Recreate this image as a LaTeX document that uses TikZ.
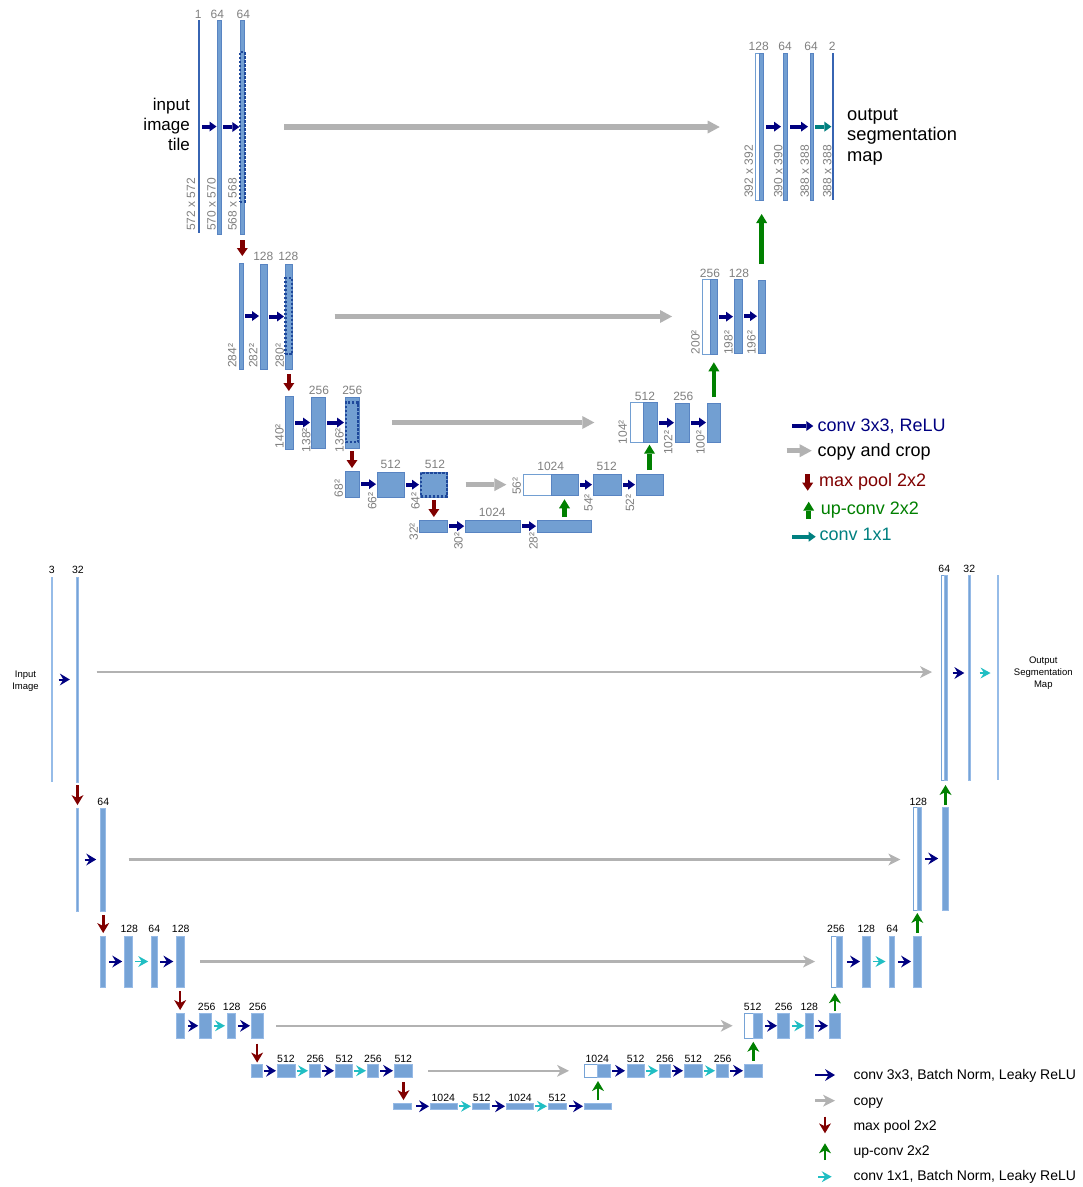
\documentclass[tikz,border=0pt]{standalone}
\usepackage{fontspec}
\setmainfont{Liberation Sans}
\usetikzlibrary{arrows.meta,calc}
\definecolor{blkfill}{RGB}{114,159,210}
\definecolor{blkdraw}{RGB}{88,132,194}
\definecolor{bblkfill}{RGB}{118,163,214}
\definecolor{bblkdraw}{RGB}{150,186,230}
\definecolor{linedark}{RGB}{55,100,178}
\definecolor{linelight}{RGB}{150,188,232}
\definecolor{convc}{RGB}{0,0,128}
\definecolor{poolc}{RGB}{128,0,0}
\definecolor{upc}{RGB}{0,128,0}
\definecolor{tealc}{RGB}{0,128,128}
\definecolor{cyanc}{RGB}{32,190,195}
\definecolor{copyc}{RGB}{178,178,178}
\definecolor{labc}{RGB}{128,128,128}
\definecolor{dashc}{RGB}{30,72,155}
\newcommand\blkbox[6][blk]{%
  \pgfmathsetmacro\bbw{#5-#3}\pgfmathsetmacro\bbh{#6-#4}%
  \node[#1,minimum width=\bbw pt,minimum height=\bbh pt] (#2) at ({(#3+#5)/2},{(#4+#6)/2}) {};}
\newcommand\hconn[5]{\draw[#1,shorten <=#4pt,shorten >=#5pt] (#2.east) -- (#2.east -| #3.west);}
\newcommand\dconn[5]{\draw[#1,shorten <=#4pt,shorten >=#5pt] (#2.south) -- (#2.south |- #3.north);}
\newcommand\uconn[5]{\draw[#1,shorten <=#4pt,shorten >=#5pt] (#2.north) -- (#2.north |- #3.south);}
\begin{document}
\begin{tikzpicture}[x=1pt,y=-1pt,
 blk/.style={rectangle,draw=blkdraw,fill=blkfill,line width=0.7pt,inner sep=0pt,outer sep=0pt},
 wblk/.style={rectangle,draw=blkfill,fill=white,line width=0.9pt,inner sep=0pt,outer sep=0pt},
 tline/.style={rectangle,draw=none,fill=linedark,inner sep=0pt,outer sep=0pt},
 crop/.style={rectangle,draw=dashc,dash pattern=on 2.4pt off 1.6pt,line width=2.2pt,inner sep=0pt,outer sep=0pt},
 bblk/.style={rectangle,draw=bblkdraw,fill=bblkfill,line width=0.6pt,inner sep=0pt,outer sep=0pt},
 bwblk/.style={rectangle,draw=bblkfill,fill=white,line width=0.9pt,inner sep=0pt,outer sep=0pt},
 bline/.style={rectangle,draw=none,fill=linelight,inner sep=0pt,outer sep=0pt},
 tconv/.style={draw=convc,line width=4pt,-{Triangle[length=7pt,width=10pt,line width=0pt]}},
 tone/.style={draw=tealc,line width=4pt,-{Triangle[length=7pt,width=10pt,line width=0pt]}},
 tcopy/.style={draw=copyc,line width=5.5pt,-{Triangle[length=12pt,width=13pt,line width=0pt]}},
 tpool/.style={draw=poolc,line width=4.5pt,-{Triangle[length=8pt,width=11pt,line width=0pt]}},
 tup/.style={draw=upc,line width=4.5pt,-{Triangle[length=9pt,width=11pt,line width=0pt]}},
 bconv/.style={draw=convc,line width=2pt,-{Stealth[length=10pt,width=12pt,inset=3.5pt,line width=0pt]}},
 bone/.style={draw=cyanc,line width=1.8pt,-{Stealth[length=10pt,width=11pt,inset=3.5pt,line width=0pt]}},
 bcopy/.style={draw=copyc,line width=2.5pt,-{Stealth[length=12pt,width=12pt,inset=3.5pt,line width=0pt]}},
 bpool/.style={draw=poolc,line width=2.6pt,-{Stealth[length=10pt,width=12pt,inset=3pt,line width=0pt]}},
 bup/.style={draw=upc,line width=2.6pt,-{Stealth[length=10pt,width=12pt,inset=3pt,line width=0pt]}},
 tnum/.style={text=labc,font=\fontsize{12}{14}\selectfont,inner sep=0pt,anchor=base},
 tsz/.style={text=labc,font=\fontsize{12}{14}\selectfont,inner sep=0pt,rotate=90,anchor=south west},
 bnum/.style={text=black,font=\fontsize{10.5}{12}\selectfont,inner sep=0pt,anchor=base},
 tleg/.style={anchor=base west,inner sep=0pt,font=\fontsize{18}{20}\selectfont},
 bleg/.style={anchor=base west,inner sep=0pt,font=\fontsize{14}{16}\selectfont},
]
\useasboundingbox (0,0) rectangle (1083,1187);
\fill[white] (0,0) rectangle (1083,1187);

% ================= TOP U-NET =================
% level 1 left
\blkbox[tline]{c11}{198.4}{20}{199.6}{233}
\blkbox{c12}{217}{20}{221.3}{234}
\blkbox{c13}{240.3}{20}{244.3}{234}
\blkbox[crop]{k1}{240}{52}{244.6}{202}
\node[tnum] (n11) at (198.3,18.5) {1};
\node[tnum] (n12) at (217.3,18.5) {64};
\node[tnum] (n13) at (243.3,18.5) {64};
\node[tsz] (s11) at (195.5,231) {572 x 572};
\node[tsz] (s12) at (216,231) {570 x 570};
\node[tsz] (s13) at (237,231) {568 x 568};
\node[anchor=north east,align=right,inner sep=0pt,font=\fontsize{17}{20.3}\selectfont] (inp) at (190,97.5) {input\\image\\tile};
% level 2 left
\blkbox{c21}{239}{263}{243}{369}
\blkbox{c22}{260.3}{264}{267.7}{369}
\blkbox{c23}{285}{264}{292.7}{369}
\blkbox[crop]{k2}{285.4}{278.3}{292.3}{354}
\node[tnum] (n22) at (263.3,260.7) {128};
\node[tnum] (n23) at (288.3,260.7) {128};
\node[tsz] (s21) at (236.7,368) {284²};
\node[tsz] (s22) at (257.7,368) {282²};
\node[tsz] (s23) at (284.3,368) {280²};
% level 3 left
\blkbox{c31}{285.7}{396}{293}{449}
\blkbox{c32}{311}{397}{325}{448}
\blkbox{c33}{345}{397}{359}{448}
\blkbox[crop]{k3}{345.8}{402.5}{358.2}{442.3}
\node[tnum] (n32) at (319,394.3) {256};
\node[tnum] (n33) at (352.3,394.3) {256};
\node[tsz] (s31) at (284,448.3) {140²};
\node[tsz] (s32) at (310.7,452.5) {138²};
\node[tsz] (s33) at (344,452.5) {136²};
% level 4 left
\blkbox{c41}{345}{471}{359.3}{497.3}
\blkbox{c42}{377}{472}{404.3}{497.3}
\blkbox{c43}{420}{472}{447.7}{497.3}
\blkbox[crop]{k4}{420.8}{472.8}{446.9}{496.5}
\node[tnum] (n42) at (390.7,468.3) {512};
\node[tnum] (n43) at (435,468.3) {512};
\node[tsz] (s41) at (343.3,497.3) {68²};
\node[tsz] (s42) at (376.7,510) {66²};
\node[tsz] (s43) at (420,510) {64²};
% level 5
\blkbox{c51}{419.3}{520}{447.3}{532.3}
\blkbox{c52}{465.7}{520}{520}{532.3}
\blkbox{c53}{537.3}{520}{591.7}{532.3}
\node[tnum] (n52) at (492.3,516.7) {1024};
\node[tsz] (s51) at (418.3,540.7) {32²};
\node[tsz] (s52) at (463,550) {30²};
\node[tsz] (s53) at (538,550) {28²};
% level 4 right
\blkbox[wblk]{w4}{523.3}{474}{551}{495.3}
\blkbox{cb4}{551}{474}{578.3}{495.3}
\blkbox{r42}{593.3}{474}{621}{495.3}
\blkbox{r43}{636}{474}{663}{495.3}
\node[tnum] (m41) at (550.7,470) {1024};
\node[tnum] (m42) at (606.7,470) {512};
\node[tsz] (t41) at (521.3,495) {56²};
\node[tsz] (t42) at (593,511.7) {54²};
\node[tsz] (t43) at (634.5,512) {52²};
% level 3 right
\blkbox[wblk]{w3}{630.3}{402.7}{643.7}{442.7}
\blkbox{cb3}{643.7}{402.7}{657.3}{442.7}
\blkbox{r32}{675.7}{403}{689.3}{442}
\blkbox{r33}{707}{403}{720.7}{442}
\node[tnum] (m31) at (645,400.7) {512};
\node[tnum] (m32) at (683.3,400.7) {256};
\node[tsz] (t31) at (627.3,444.3) {104²};
\node[tsz] (t32) at (672.7,455) {102²};
\node[tsz] (t33) at (705,455) {100²};
% level 2 right
\blkbox[wblk]{w2}{702}{279}{710}{354.3}
\blkbox{cb2}{710}{279}{717.3}{354.3}
\blkbox{r22}{734.7}{279}{742}{353.3}
\blkbox{r23}{758}{280}{765.3}{353.3}
\node[tnum] (m21) at (710,277.3) {256};
\node[tnum] (m22) at (739,277.3) {128};
\node[tsz] (t21) at (700,354.3) {200²};
\node[tsz] (t22) at (733,355) {198²};
\node[tsz] (t23) at (756,355) {196²};
% level 1 right
\blkbox[wblk]{w1}{755.7}{53.3}{759.7}{200}
\blkbox{cb1}{759.7}{53.3}{763.7}{200}
\blkbox{r12}{783.3}{53.3}{787}{200}
\blkbox{r13}{810}{53.3}{813.3}{200}
\blkbox[tline]{r14}{832.4}{53.3}{833.6}{200}
\node[tnum] (m11) at (758.7,50.7) {128};
\node[tnum] (m12) at (785,50.7) {64};
\node[tnum] (m13) at (811,50.7) {64};
\node[tnum] (m14) at (832.3,50.7) {2};
\node[tsz] (t11) at (753.3,198) {392 x 392};
\node[tsz] (t12) at (782.7,198) {390 x 390};
\node[tsz] (t13) at (809.3,198) {388 x 388};
\node[tsz] (t14) at (831.7,198) {388 x 388};
\node[anchor=north west,align=left,inner sep=0pt,font=\fontsize{18.3}{20.5}\selectfont] (outp) at (847,108) {output\\segmentation\\map};

% top connectors
\hconn{tconv}{c11}{c12}{2.5}{0.5}
\hconn{tconv}{c12}{c13}{2}{1}
\hconn{tconv}{c21}{c22}{2}{1.3}
\hconn{tconv}{c22}{c23}{1.3}{1}
\hconn{tconv}{c31}{c32}{2}{1}
\hconn{tconv}{c32}{c33}{2}{1}
\hconn{tconv}{c41}{c42}{1.7}{1}
\hconn{tconv}{c42}{c43}{1.7}{1}
\hconn{tconv}{c51}{c52}{1.7}{1.5}
\hconn{tconv}{c52}{c53}{2}{1.3}
\hconn{tconv}{cb4}{r42}{1.7}{1.3}
\hconn{tconv}{r42}{r43}{2}{1}
\hconn{tconv}{cb3}{r32}{1.7}{1.7}
\hconn{tconv}{r32}{r33}{1.7}{1}
\hconn{tconv}{cb2}{r22}{1.7}{1.7}
\hconn{tconv}{r22}{r23}{2}{1}
\hconn{tconv}{cb1}{r12}{2.3}{2.3}
\hconn{tconv}{r12}{r13}{3}{2}
\hconn{tone}{r13}{r14}{1.7}{1}
\hconn{tcopy}{c13}{w1}{40}{36}
\hconn{tcopy}{c23}{w2}{42}{30}
\hconn{tcopy}{c33}{w3}{33}{36}
\hconn{tcopy}{c43}{w4}{18}{17}
\dconn{tpool}{c13}{c21}{6}{7}
\dconn{tpool}{c23}{c31}{5}{5}
\dconn{tpool}{c33}{c41}{3}{3}
\dconn{tpool}{c43}{c51}{3}{3}
\uconn{tup}{c53}{cb4}{3}{4}
\uconn{tup}{r43}{cb3}{4}{2}
\uconn{tup}{r33}{cb2}{6}{8}
\uconn{tup}{r23}{cb1}{16}{14}

% top legend
\node[tleg,text=convc] (lg1) at (817.3,431.7) {conv 3x3, ReLU};
\node[tleg,text=black] (lg2) at (817.3,456) {copy and crop};
\node[tleg,text=poolc] (lg3) at (819,486) {max pool 2x2};
\node[tleg,text=upc] (lg4) at (820.7,514.3) {up-conv 2x2};
\node[tleg,text=tealc] (lg5) at (819.3,540.7) {conv 1x1};
\coordinate (la1) at (792.3,426);
\coordinate (la2) at (786.7,450.7);
\coordinate (la3s) at (807.7,474);
\coordinate (la3e) at (807.7,490.7);
\coordinate (la4s) at (808.7,519);
\coordinate (la4e) at (808.7,501.7);
\coordinate (la5) at (792.3,536.7);
\draw[tconv,shorten >=4pt] (la1) -- (la1 -| lg1.west);
\draw[tcopy,shorten >=5.6pt] (la2) -- (la2 -| lg2.west);
\draw[tpool] (la3s) -- (la3e);
\draw[tup] (la4s) -- (la4e);
\draw[tone,shorten >=3.6pt] (la5) -- (la5 -| lg5.west);

% ================= BOTTOM U-NET =================
% level 1
\blkbox[bline]{b11}{50.7}{577}{52.7}{782}
\blkbox[bblk]{b12}{76.3}{577}{78.7}{782}
\node[bnum] (q11) at (51.7,573.3) {3};
\node[bnum] (q12) at (78,573.3) {32};
\node[align=center,anchor=north,inner sep=0pt,font=\fontsize{9.5}{11.7}\selectfont] (inimg) at (25.5,671) {Input\\Image};
\blkbox[bwblk]{bw1}{941}{575}{944}{780}
\blkbox[bblk]{bb1}{944}{575}{947}{780}
\blkbox[bblk]{br12}{968.3}{575}{970.7}{780}
\blkbox[bline]{br13}{997}{575}{999}{780}
\node[bnum] (p11) at (944.3,572.7) {64};
\node[bnum] (p12) at (969.3,572.7) {32};
\node[align=center,anchor=north,inner sep=0pt,font=\fontsize{9.5}{12.3}\selectfont] (outmap) at (1043.3,656.5) {Output\\Segmentation\\Map};
% level 2
\blkbox[bblk]{b21}{76}{808}{78.7}{911}
\blkbox[bblk]{b22}{100.7}{808}{105.7}{911}
\node[bnum] (q22) at (103.3,805) {64};
\blkbox[bwblk]{bw2}{913.3}{807}{917.7}{910}
\blkbox[bblk]{bb2}{917.7}{807}{921}{910}
\blkbox[bblk]{br22}{942.7}{807}{948.3}{910}
\node[bnum] (p21) at (918.3,805) {128};
% level 3
\blkbox[bblk]{b31}{100.7}{936}{105.7}{987}
\blkbox[bblk]{b32}{124.7}{936}{132.7}{987}
\blkbox[bblk]{b33}{151.7}{936}{157.3}{987}
\blkbox[bblk]{b34}{176}{936}{184.3}{987}
\node[bnum] (q32) at (129.3,932.7) {128};
\node[bnum] (q33) at (154.3,932.7) {64};
\node[bnum] (q34) at (180.7,932.7) {128};
\blkbox[bwblk]{bw3}{831}{936}{836.7}{987}
\blkbox[bblk]{bb3}{836.7}{936}{842.3}{987}
\blkbox[bblk]{br32}{862}{936}{870}{987}
\blkbox[bblk]{br33}{889}{936}{894.3}{987}
\blkbox[bblk]{br34}{913.3}{936}{921.3}{987}
\node[bnum] (p31) at (836,932.7) {256};
\node[bnum] (p32) at (866.3,932.7) {128};
\node[bnum] (p33) at (892.3,932.7) {64};
% level 4
\blkbox[bblk]{b41}{176}{1013}{184.3}{1038.5}
\blkbox[bblk]{b42}{199.7}{1013}{211.7}{1038.5}
\blkbox[bblk]{b43}{227}{1013}{235.7}{1038.5}
\blkbox[bblk]{b44}{251}{1013}{263.3}{1038.5}
\node[bnum] (q42) at (206.7,1010.7) {256};
\node[bnum] (q43) at (231.7,1010.7) {128};
\node[bnum] (q44) at (257.7,1010.7) {256};
\blkbox[bwblk]{bw4}{744.7}{1013}{753.7}{1038.5}
\blkbox[bblk]{bb4}{753.7}{1013}{762}{1038.5}
\blkbox[bblk]{br42}{777.7}{1013}{789.3}{1038.5}
\blkbox[bblk]{br43}{805.7}{1013}{813}{1038.5}
\blkbox[bblk]{br44}{829}{1013}{840.7}{1038.5}
\node[bnum] (p41) at (752.7,1010.7) {512};
\node[bnum] (p42) at (783.7,1010.7) {256};
\node[bnum] (p43) at (809.3,1010.7) {128};
% level 5
\blkbox[bblk]{b51}{251.7}{1064.5}{262.7}{1077}
\blkbox[bblk]{b52}{277.3}{1064.5}{295}{1077}
\blkbox[bblk]{b53}{309}{1064.5}{320.3}{1077}
\blkbox[bblk]{b54}{335}{1064.5}{352.7}{1077}
\blkbox[bblk]{b55}{367}{1064.5}{378.3}{1077}
\blkbox[bblk]{b56}{394.7}{1064.5}{412.3}{1077}
\node[bnum] (q52) at (286,1062.7) {512};
\node[bnum] (q53) at (315.3,1062.7) {256};
\node[bnum] (q54) at (344.3,1062.7) {512};
\node[bnum] (q55) at (373,1062.7) {256};
\node[bnum] (q56) at (403.3,1062.7) {512};
\blkbox[bwblk]{bw5}{584}{1064.5}{597.3}{1077}
\blkbox[bblk]{bb5}{597.3}{1064.5}{610}{1077}
\blkbox[bblk]{br52}{627.3}{1064.5}{644.3}{1077}
\blkbox[bblk]{br53}{659}{1064.5}{670}{1077}
\blkbox[bblk]{br54}{684.7}{1064.5}{702.3}{1077}
\blkbox[bblk]{br55}{716.7}{1064.5}{728}{1077}
\blkbox[bblk]{br56}{744.3}{1064.5}{762.3}{1077}
\node[bnum] (p51) at (597.3,1062.3) {1024};
\node[bnum] (p52) at (635.7,1062.3) {512};
\node[bnum] (p53) at (665,1062.3) {256};
\node[bnum] (p54) at (693.3,1062.3) {512};
\node[bnum] (p55) at (722.7,1062.3) {256};
% level 6
\blkbox[bblk]{b61}{393.7}{1103}{411.7}{1109.5}
\blkbox[bblk]{b62}{430}{1103}{457}{1109.5}
\blkbox[bblk]{b63}{472}{1103}{489.7}{1109.5}
\blkbox[bblk]{b64}{506.7}{1103}{533.3}{1109.5}
\blkbox[bblk]{b65}{548.3}{1103}{566.3}{1109.5}
\blkbox[bblk]{b66}{584.7}{1103}{611.3}{1109.5}
\node[bnum] (q62) at (443.3,1101.7) {1024};
\node[bnum] (q63) at (481.7,1101.7) {512};
\node[bnum] (q64) at (520,1101.7) {1024};
\node[bnum] (q65) at (557.3,1101.7) {512};

% bottom connectors
\hconn{bconv}{b11}{b12}{6}{6.5}
\draw[bcopy,shorten <=18pt,shorten >=9pt] ($(b12.east)+(0,-7.5)$) -- ($(b12.east -| bw1.west)+(0,-7.5)$);
\draw[bconv,shorten <=5.5pt,shorten >=4pt] ($(bb1.east)+(0,-4.5)$) -- ($(bb1.east -| br12.west)+(0,-4.5)$);
\draw[bone,shorten <=9pt,shorten >=6.5pt] ($(br12.east)+(0,-4.5)$) -- ($(br12.east -| br13.west)+(0,-4.5)$);
\hconn{bconv}{b21}{b22}{6}{4.5}
\hconn{bcopy}{b22}{bw2}{23}{13}
\hconn{bconv}{bb2}{br22}{4}{4.5}
\hconn{bconv}{b31}{b32}{3.5}{2.5}
\hconn{bone}{b32}{b33}{2.3}{3.5}
\hconn{bconv}{b33}{b34}{2.5}{2.7}
\hconn{bcopy}{b34}{bw3}{16}{16}
\hconn{bconv}{bb3}{br32}{4.5}{2}
\hconn{bone}{br32}{br33}{3}{3.5}
\hconn{bconv}{br33}{br34}{3.5}{2.3}
\hconn{bconv}{b41}{b42}{3.5}{1.5}
\hconn{bone}{b42}{b43}{2.3}{2}
\hconn{bconv}{b43}{b44}{2.3}{1}
\hconn{bcopy}{b44}{bw4}{13}{12}
\hconn{bconv}{bb4}{br42}{3}{0.7}
\hconn{bone}{br42}{br43}{2.5}{1.5}
\hconn{bconv}{br43}{br44}{2}{1}
\hconn{bconv}{b51}{b52}{1.3}{1.3}
\hconn{bone}{b52}{b53}{2}{1}
\hconn{bconv}{b53}{b54}{1.7}{1}
\hconn{bone}{b54}{b55}{1.3}{1}
\hconn{bconv}{b55}{b56}{1.7}{1.7}
\hconn{bcopy}{b56}{bw5}{16}{15}
\hconn{bconv}{bb5}{br52}{2}{2.3}
\hconn{bone}{br52}{br53}{1.7}{1}
\hconn{bconv}{br53}{br54}{2}{1.7}
\hconn{bone}{br54}{br55}{1.7}{1.7}
\hconn{bconv}{br55}{br56}{2}{1.3}
\hconn{bconv}{b61}{b62}{4.3}{1}
\hconn{bone}{b62}{b63}{2}{1}
\hconn{bconv}{b63}{b64}{2.3}{1.7}
\hconn{bone}{b64}{b65}{1.7}{1.3}
\hconn{bconv}{b65}{b66}{2.7}{1.7}
\dconn{bpool}{b12}{b21}{3}{3}
\dconn{bpool}{b22}{b31}{4}{3}
\dconn{bpool}{b34}{b41}{4}{3}
\dconn{bpool}{b44}{b51}{5}{2}
\dconn{bpool}{b56}{b61}{5}{3}
\uconn{bup}{b66}{bb5}{3}{4}
\uconn{bup}{br56}{bb4}{4}{3.3}
\uconn{bup}{br44}{bb3}{2}{6.3}
\uconn{bup}{br34}{bb2}{3}{3}
\uconn{bup}{br22}{bb1}{2}{5}

% bottom legend
\node[bleg] (bl1) at (853.3,1079.3) {conv 3x3, Batch Norm, Leaky ReLU};
\node[bleg] (bl2) at (853.3,1105.3) {copy};
\node[bleg] (bl3) at (853.3,1130) {max pool 2x2};
\node[bleg] (bl4) at (853.3,1155.7) {up-conv 2x2};
\node[bleg] (bl5) at (853.3,1180) {conv 1x1, Batch Norm, Leaky ReLU};
\coordinate (bla1) at (815,1075);
\coordinate (bla2) at (815,1100.7);
\coordinate (bla3s) at (825,1116.7);
\coordinate (bla3e) at (825,1133.3);
\coordinate (bla4s) at (825,1160);
\coordinate (bla4e) at (825,1143.3);
\coordinate (bla5) at (818.3,1176.7);
\draw[bconv,shorten >=18.3pt] (bla1) -- (bla1 -| bl1.west);
\draw[bcopy,shorten >=18.3pt] (bla2) -- (bla2 -| bl2.west);
\draw[bpool] (bla3s) -- (bla3e);
\draw[bup] (bla4s) -- (bla4e);
\draw[bone,shorten >=21.6pt] (bla5) -- (bla5 -| bl5.west);
\end{tikzpicture}
\end{document}
